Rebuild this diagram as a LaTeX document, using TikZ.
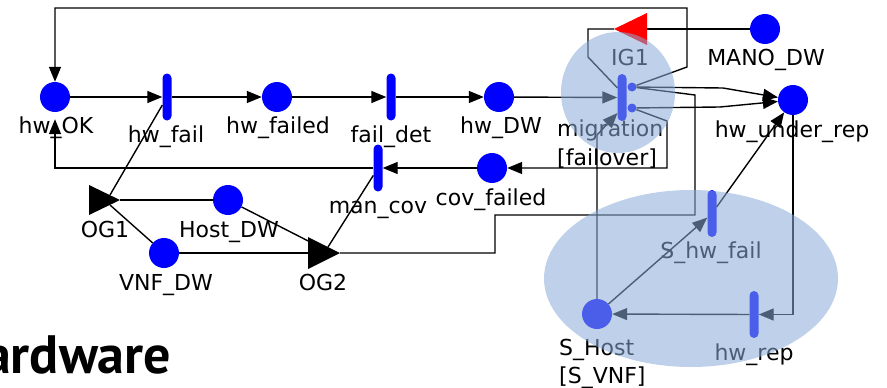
\documentclass[tikz,border=0pt]{standalone}
\usepackage{fontspec}
\setmainfont{DejaVu Sans}
\newfontfamily\headfont{PT Sans}
\usetikzlibrary{arrows.meta}
\definecolor{pblue}{RGB}{0,0,255}
\definecolor{ovl}{RGB}{138,172,216}
\begin{document}
\begin{tikzpicture}[x=1pt,y=-1pt,
  place/.style={circle,fill=pblue,minimum size=30pt,inner sep=0pt},
  trans/.style={rectangle,fill=pblue,minimum width=9pt,minimum height=47pt,inner sep=0pt,rounded corners=4.5pt},
  dot/.style={circle,fill=pblue,minimum size=9pt,inner sep=0pt},
  lab/.style={font=\fontsize{22}{26}\selectfont,inner sep=0pt,anchor=base},
  labw/.style={lab,anchor=base west},
  arc/.style={draw=black,line width=1.4pt},
  arr/.style={arc,-{Triangle[length=15pt,width=12pt]}},
  overlay/.style={fill=ovl,fill opacity=0.55},
]
\useasboundingbox (0,0) rectangle (887,388);

% places and transitions
\node[place] (hwOK) at (55,97) {};
\node[trans] (hwfail) at (167,97) {};
\node[place] (hwfailed) at (277,97) {};
\node[trans] (faildet) at (391,97) {};
\node[place] (hwDW) at (499,97) {};
\node[trans] (mig) at (622,97.5) {};
\node[dot] (mU) at (632,87) {};
\node[dot] (mL) at (632,108) {};
\node[place] (MANO) at (765,29) {};
\node[place] (hwur) at (793,100) {};
\node[place] (cov) at (492,168) {};
\node[trans] (mancov) at (378,168) {};
\node[place] (HostDW) at (228,200) {};
\node[place] (VNFDW) at (164,253) {};
\node[trans] (Shwfail) at (712,213.5) {};
\node[trans] (hwrep) at (754,314.5) {};
\node[place] (SHost) at (597,314) {};

% gates
\fill[black] (89,185) -- (120,200) -- (89,215) -- cycle;
\fill[black] (308,237) -- (340,253) -- (308,269) -- cycle;
\fill[red] (647,13) -- (614,29) -- (647,45) -- cycle;
\coordinate (OG1tip) at (120,200);
\coordinate (og1a) at (110,195);
\coordinate (og1b) at (110,205);
\coordinate (og2a) at (318,246);
\coordinate (og2l) at (308,253);
\coordinate (og2b) at (328,247);
\coordinate (OG2tip) at (340,253);
\coordinate (IG1tip) at (614,29);
\coordinate (IG1r) at (647,29);
\coordinate (migIn1) at (617.5,88);
\coordinate (migIn2) at (617.5,113);

% connectors
\draw[arr] (hwOK) -- (hwfail);
\draw[arr] (hwfail) -- (hwfailed);
\draw[arr] (hwfailed) -- (faildet);
\draw[arr] (faildet) -- (hwDW);
\draw[arr] (hwDW) -- (mig);
\draw[arr] (mU) -- (687,67) -- (687,8) -- (55,8) -- (hwOK);
\draw[arc] (IG1tip) -- (588,29) -- (588,57) -- (migIn1);
\draw[arc] (MANO) -- (IG1r);
\draw[arr] (mU) -- (723,88) -- (hwur);
\draw[arr] (mL) -- (720,107) -- (hwur);
\draw[arc] (mU) -- (695,95) -- (695,215) -- (495,215) -- (495,253) -- (OG2tip);
\draw[arr] (mL) -- (667,121) -- (667,168) -- (cov);
\draw[arr] (cov) -- (mancov);
\draw[arr,shorten >=7pt] (mancov) -- (55,168) -- (hwOK);
\draw[arc] (hwfail) -- (og1a);
\draw[arc] (OG1tip) -- (HostDW);
\draw[arc] (og1b) -- (VNFDW);
\draw[arc] (HostDW) -- (og2a);
\draw[arc] (VNFDW) -- (og2l);
\draw[arc] (og2b) -- (mancov);
\draw[arr] (SHost) -- (597,135) -- (migIn2);
\draw[arr] (SHost) -- (Shwfail);
\draw[arr] (Shwfail) -- (hwur);
\draw[arr] (hwur) -- (793,314.5) -- (hwrep);
\draw[arr] (hwrep) -- (SHost);

% labels
\node[lab] (lOK) at (56,133) {hw\_OK};
\node[lab] (lfail) at (166,142) {hw\_fail};
\node[lab] (lfailed) at (278,133) {hw\_failed};
\node[lab] (ldet) at (391,142) {fail\_det};
\node[lab] (lDW) at (501,133) {hw\_DW};
\node[labw] (lmig) at (557,136) {migration};
\node[labw] (lfo) at (557,165) {[failover]};
\node[lab] (lIG) at (630,65) {IG1};
\node[lab] (lMANO) at (766,65) {MANO\_DW};
\node[lab] (lur) at (792,137) {hw\_under\_rep};
\node[lab] (lcov) at (491,205) {cov\_failed};
\node[lab] (lmc) at (378,213) {man\_cov};
\node[lab] (lOG1) at (105,237) {OG1};
\node[lab] (lHost) at (229,237) {Host\_DW};
\node[lab] (lVNF) at (166,290) {VNF\_DW};
\node[lab] (lOG2) at (323,290) {OG2};
\node[lab] (lShw) at (711,258) {S\_hw\_fail};
\node[lab] (lrep) at (754,360) {hw\_rep};
\node[labw] (lSH) at (559,355) {S\_Host};
\node[labw] (lSV) at (559,383) {[S\_VNF]};
\node[inner sep=0pt,anchor=base west,font=\headfont\bfseries\fontsize{54}{64}\selectfont] (head) at (-16,373) {ardware};

% translucent group overlays
\fill[overlay] (618,92.5) ellipse [x radius=57,y radius=60.5];
\fill[overlay] (691,278.5) ellipse [x radius=147,y radius=88.5];
\end{tikzpicture}
\end{document}
